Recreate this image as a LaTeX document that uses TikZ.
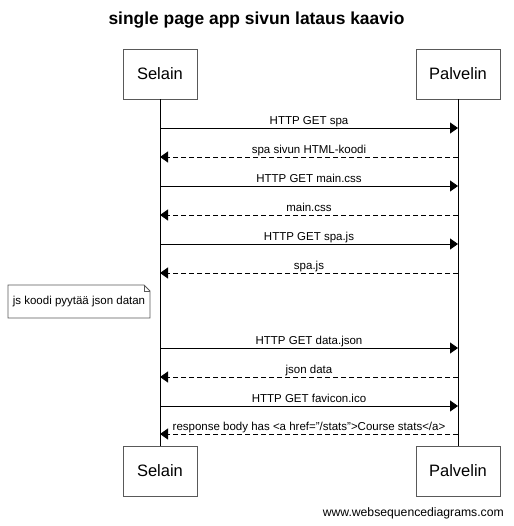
\documentclass[tikz,border=0pt]{standalone}
\usepackage{fontspec}
\setmainfont{Liberation Sans}
\usetikzlibrary{arrows.meta}
\begin{document}
\begin{tikzpicture}[x=1pt,y=-1pt,
  actor/.style={draw=black!65,line width=0.9pt,minimum height=50pt,inner sep=0pt,font=\fontsize{16.5}{19}\selectfont},
  lifeline/.style={draw=black,line width=0.9pt},
  msg/.style={draw=black,line width=0.9pt,-{Triangle[length=8pt,width=11pt]}},
  ret/.style={msg,dash pattern=on 5pt off 3pt},
  lbl/.style={above,inner sep=1pt,text height=9pt,text depth=2.5pt,font=\fontsize{11.5}{13}\selectfont},
  notebox/.style={draw=black!65,line width=0.9pt,fill=white}
]
\useasboundingbox (0,0) rectangle (513,526);
\node[font=\bfseries\fontsize{17.4}{20}\selectfont] (title) at (256.5,20) {single page app sivun lataus kaavio};

\node[actor,minimum width=74pt] (s1) at (160,74) {Selain};
\node[actor,minimum width=84pt] (p1) at (458,74) {Palvelin};
\node[actor,minimum width=74pt] (s2) at (160,471) {Selain};
\node[actor,minimum width=84pt] (p2) at (458,471) {Palvelin};
\draw[lifeline] (s1.south) -- (s2.north);
\draw[lifeline] (p1.south) -- (p2.north);

\foreach \i/\y in {1/128,2/157,3/186,4/215,5/244,6/273,7/348,8/377,9/406,10/434}{
  \coordinate (s-\i) at (160,\y);
  \coordinate (p-\i) at (458,\y);
}
\draw[msg] (s-1) -- node[lbl]{HTTP GET spa} (p-1);
\draw[ret] (p-2) -- node[lbl]{spa sivun HTML-koodi} (s-2);
\draw[msg] (s-3) -- node[lbl]{HTTP GET main.css} (p-3);
\draw[ret] (p-4) -- node[lbl]{main.css} (s-4);
\draw[msg] (s-5) -- node[lbl]{HTTP GET spa.js} (p-5);
\draw[ret] (p-6) -- node[lbl]{spa.js} (s-6);
\draw[msg] (s-7) -- node[lbl]{HTTP GET data.json} (p-7);
\draw[ret] (p-8) -- node[lbl]{json data} (s-8);
\draw[msg] (s-9) -- node[lbl]{HTTP GET favicon.ico} (p-9);
\draw[ret] (p-10) -- node[lbl]{response body has <a href="/stats">Course stats</a>} (s-10);

\draw[notebox] (8,285) -- (144,285) -- (150,291) -- (150,318) -- (8,318) -- cycle;
\draw[draw=black!65,line width=0.9pt] (144,285) -- (144,291) -- (150,291);
\node[font=\fontsize{11.5}{13}\selectfont,inner sep=0pt] (note) at (79,302) {js koodi pyytää json datan};

\node[anchor=east,inner sep=0pt,font=\fontsize{12.2}{14}\selectfont] (footer) at (504,513) {www.websequencediagrams.com};
\end{tikzpicture}
\end{document}
